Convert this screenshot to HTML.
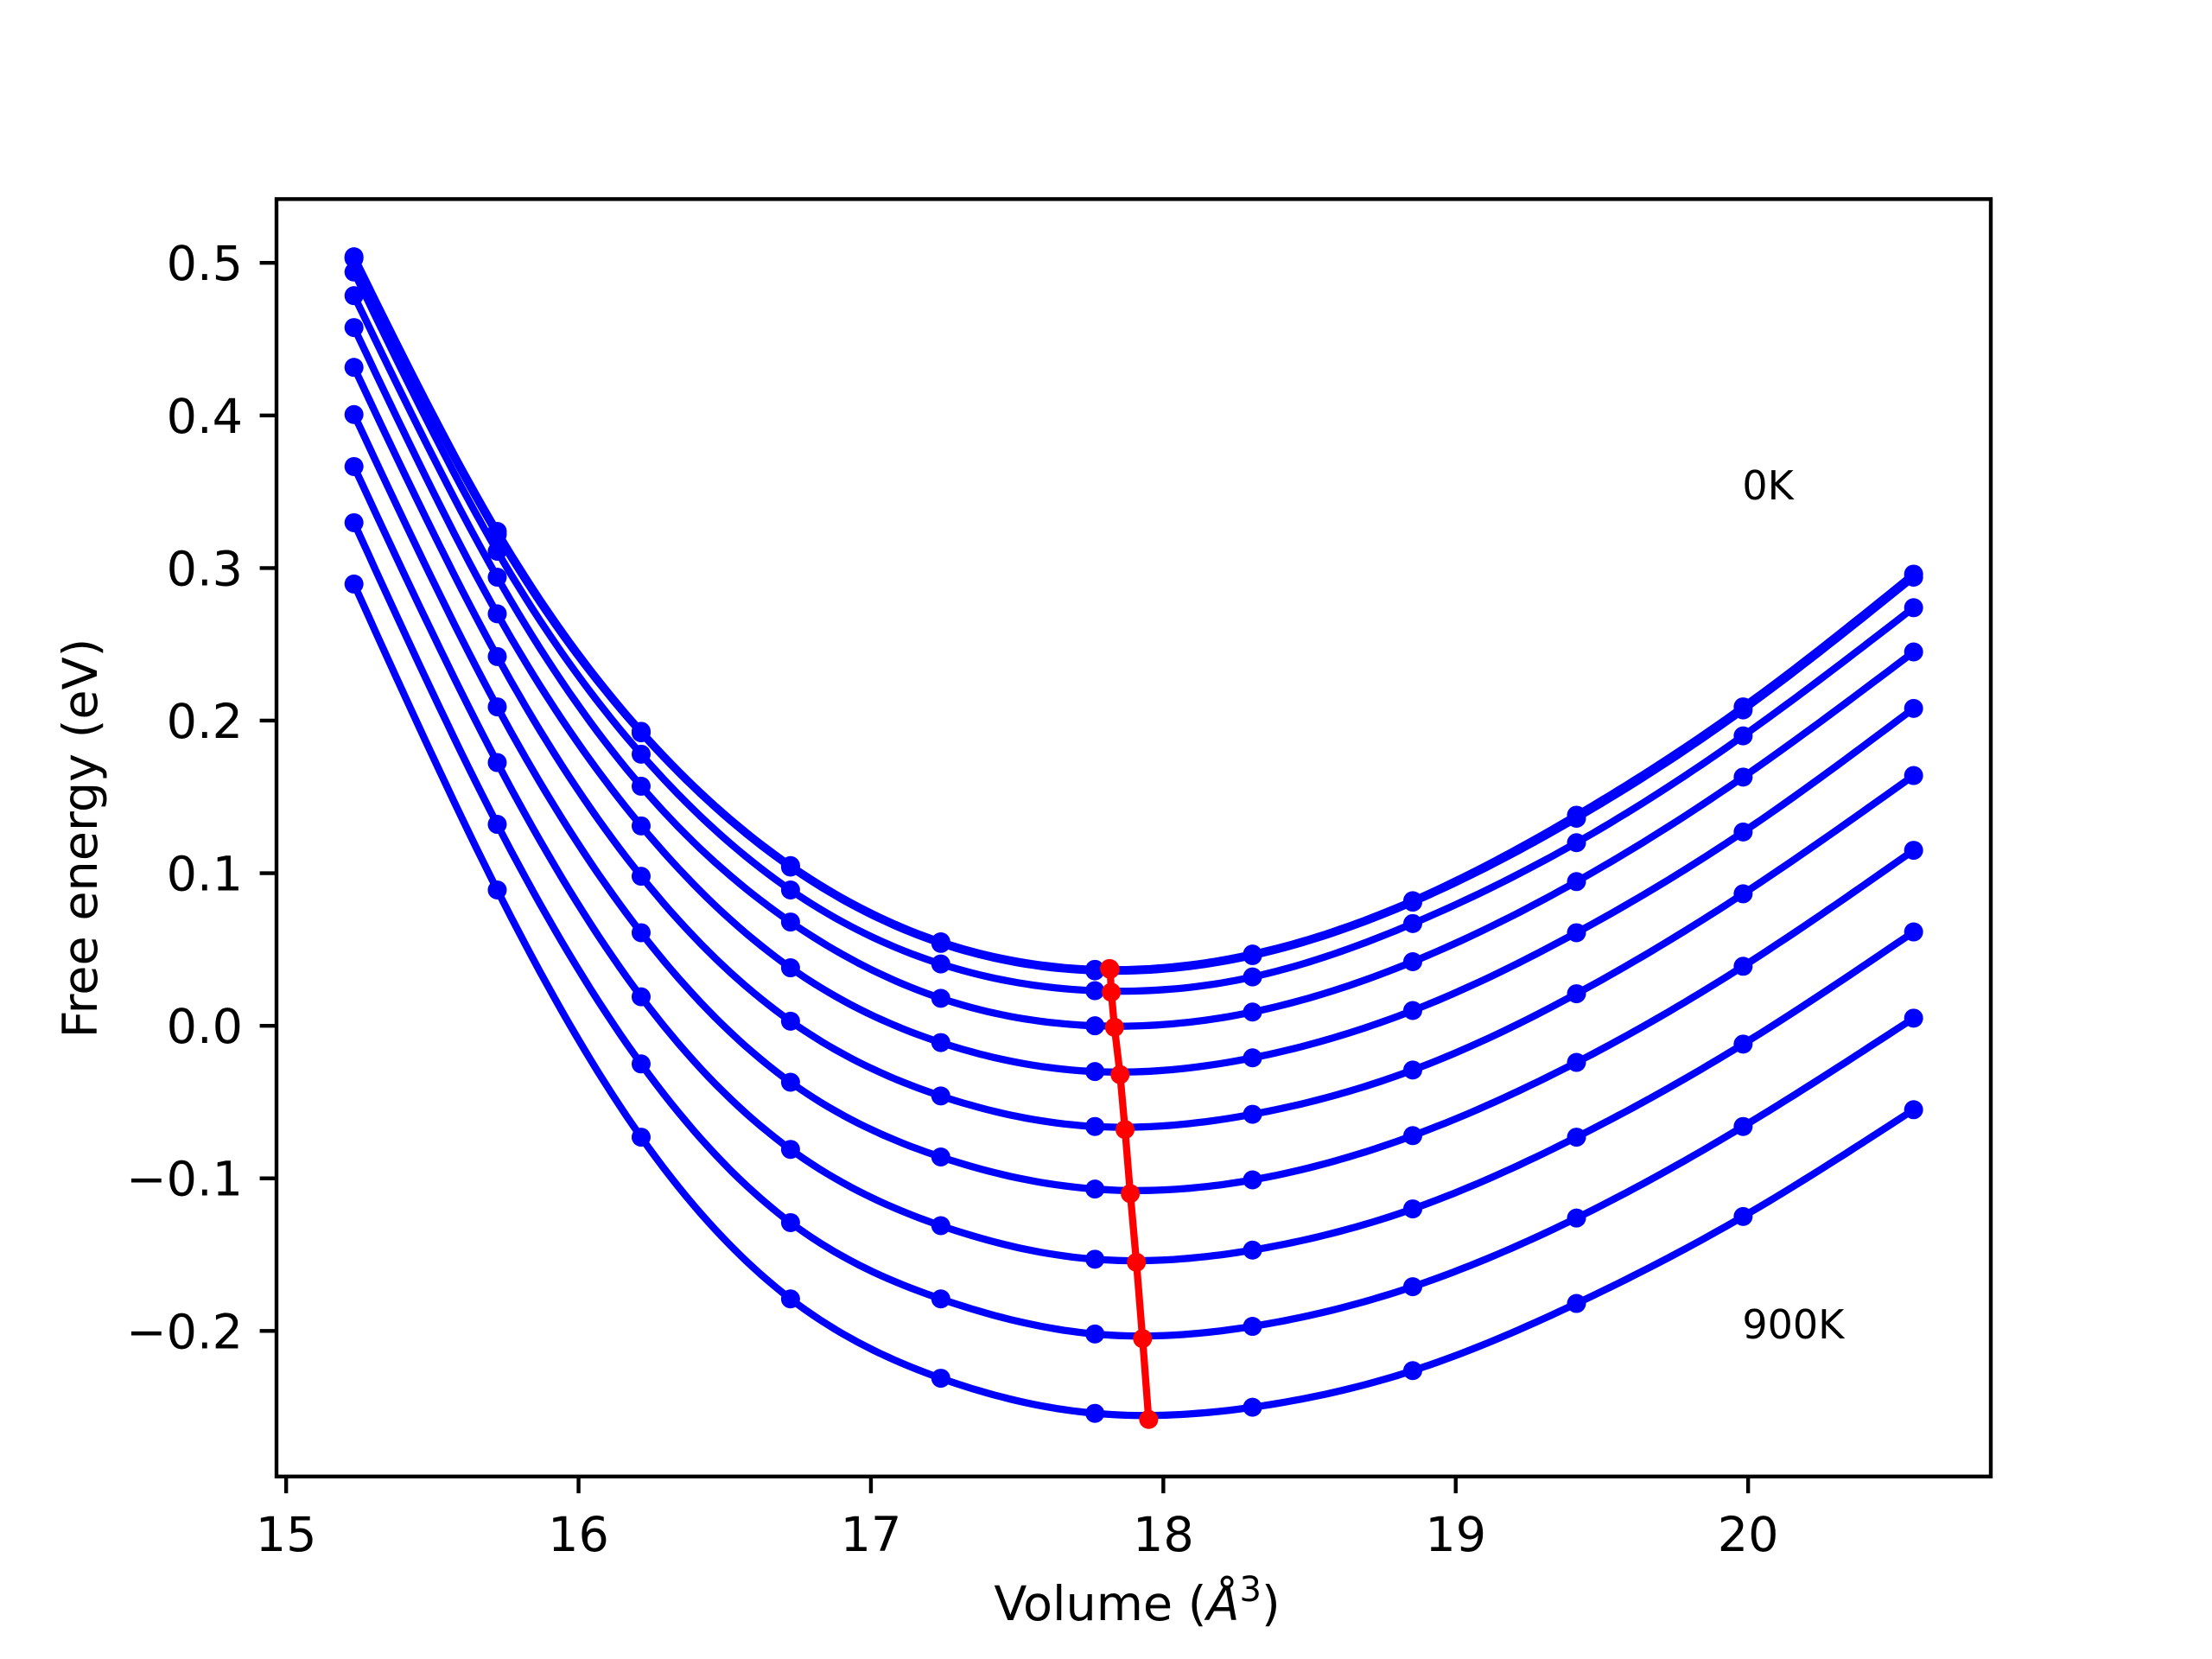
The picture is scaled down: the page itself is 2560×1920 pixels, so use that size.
<!DOCTYPE html>
<html><head><meta charset="utf-8"><style>
html,body{margin:0;padding:0;background:#fff;}
svg{display:block;font-family:"DejaVu Sans","Liberation Sans",sans-serif;}
</style></head><body>
<svg id="chart" xmlns="http://www.w3.org/2000/svg" width="2560" height="1920" viewBox="0 0 2560 1920">
<rect width="2560" height="1920" fill="#fff"/>
<g id="plot"></g>
</svg>
<script>
const volumes = [15.232, 15.722, 16.214, 16.725, 17.239, 17.766, 18.305, 18.853, 19.413, 19.983, 20.566];
const temps = ["0K","100K","200K","300K","400K","500K","600K","700K","800K","900K"];
const e0 = [0.504, 0.324, 0.193, 0.105, 0.055, 0.037, 0.047, 0.082, 0.138, 0.209, 0.296];
const e100 = [0.503, 0.322, 0.192, 0.104, 0.054, 0.036, 0.046, 0.081, 0.136, 0.207, 0.294];
const e200 = [0.494, 0.311, 0.178, 0.089, 0.0405, 0.023, 0.032, 0.067, 0.120, 0.190, 0.274];
const e300 = [0.4785, 0.294, 0.157, 0.068, 0.018, 0.0, 0.009, 0.042, 0.0945, 0.163, 0.245];
const e400 = [0.4576, 0.270, 0.131, 0.038, -0.011, -0.030, -0.021, 0.010, 0.061, 0.127, 0.208];
const e500 = [0.4315, 0.242, 0.098, 0.003, -0.046, -0.066, -0.058, -0.029, 0.021, 0.0865, 0.164];
const e600 = [0.4006, 0.209, 0.061, -0.037, -0.086, -0.107, -0.101, -0.072, -0.024, 0.039, 0.115];
const e700 = [0.3665, 0.1725, 0.019, -0.081, -0.131, -0.153, -0.147, -0.120, -0.073, -0.012, 0.0615];
const e800 = [0.3297, 0.132, -0.025, -0.129, -0.179, -0.202, -0.197, -0.171, -0.126, -0.066, 0.005];
const e900 = [0.2895, 0.089, -0.073, -0.179, -0.231, -0.254, -0.250, -0.226, -0.182, -0.125, -0.055];
const minVolumes = [17.816, 17.818, 17.822, 17.833, 17.852, 17.869, 17.887, 17.908, 17.929, 17.950];
const minEnergies = [0.0375, 0.037, 0.022, -0.001, -0.032, -0.068, -0.110, -0.155, -0.205, -0.258];
const xTicks = [15, 16, 17, 18, 19, 20];
const yTicks = [-0.2, -0.1, 0.0, 0.1, 0.2, 0.3, 0.4, 0.5];
const annotations = [["0K", 19.98, 0.345], ["900K", 19.98, -0.205]];
const series = [e0, e100, e200, e300, e400, e500, e600, e700, e800, e900];

const NS = "http://www.w3.org/2000/svg";
const L = 320, R = 2304, T = 230.4, B = 1708.8;
const xmin = 14.967, xmax = 20.830, ymin = -0.2954, ymax = 0.5418;
const sx = v => L + (v - xmin) / (xmax - xmin) * (R - L);
const sy = v => B - (v - ymin) / (ymax - ymin) * (B - T);
const g = document.getElementById('plot');
function mk(tag, attrs, parent) {
  const el = document.createElementNS(NS, tag);
  for (const k in attrs) el.setAttribute(k, attrs[k]);
  (parent || g).appendChild(el);
  return el;
}
function spline(xs, ys) {
  const n = xs.length, h = [], a = [], c = new Array(n).fill(0), l = [1], mu = [0], z = [0];
  for (let i = 0; i < n - 1; i++) h.push(xs[i+1] - xs[i]);
  for (let i = 1; i < n - 1; i++) a[i] = 3/h[i]*(ys[i+1]-ys[i]) - 3/h[i-1]*(ys[i]-ys[i-1]);
  for (let i = 1; i < n - 1; i++) {
    l[i] = 2*(xs[i+1]-xs[i-1]) - h[i-1]*mu[i-1];
    mu[i] = h[i]/l[i]; z[i] = (a[i]-h[i-1]*z[i-1])/l[i];
  }
  z[n-1] = 0;
  for (let j = n - 2; j >= 0; j--) c[j] = z[j] - mu[j]*c[j+1];
  let d = "";
  for (let i = 0; i < n - 1; i++) {
    const b = (ys[i+1]-ys[i])/h[i] - h[i]*(c[i+1]+2*c[i])/3;
    const dd = (c[i+1]-c[i])/(3*h[i]);
    for (let k = 0; k <= 20; k++) {
      const t = h[i]*k/20, x = xs[i]+t;
      const y = ys[i] + b*t + c[i]*t*t + dd*t*t*t;
      d += (d ? "L" : "M") + sx(x).toFixed(1) + "," + sy(y).toFixed(1);
    }
  }
  return d;
}
const clipDef = mk('defs', {});
const cp = mk('clipPath', {id: 'clip'}, clipDef);
mk('rect', {x: L, y: T, width: R - L, height: B - T}, cp);
const data = mk('g', {'clip-path': 'url(#clip)'});


series.forEach((s, i) => {
  const p = mk('path', {d: spline(volumes, s), fill: 'none', stroke: '#0000ff', 'stroke-width': 8.3, 'stroke-linejoin': 'round', 'stroke-linecap': 'square'}, data);
  
  
  s.forEach((v, j) => {
    const c = mk('circle', {cx: sx(volumes[j]), cy: sy(v), r: 11, fill: '#0000ff'}, data);
    
    
  });
});
let md = "";
minVolumes.forEach((v, i) => { md += (i ? "L" : "M") + sx(v).toFixed(1) + "," + sy(minEnergies[i]).toFixed(1); });
const ml = mk('path', {d: md, fill: 'none', stroke: '#ff0000', 'stroke-width': 8.3, 'stroke-linejoin': 'round'}, data);


minVolumes.forEach((v, i) => {
  const c = mk('circle', {cx: sx(v), cy: sy(minEnergies[i]), r: 11, fill: '#ff0000'}, data);
  
  
});
annotations.forEach(a => {
  const t = mk('text', {x: sx(a[1]), y: sy(a[2]), 'font-size': 46, fill: '#000'});
  t.textContent = a[0];
  
  
});
const fr = mk('rect', {x: L, y: T, width: R - L, height: B - T, fill: 'none', stroke: '#000', 'stroke-width': 4.4});


xTicks.forEach(v => {
  const x = sx(v);
  const tk = mk('line', {x1: x, x2: x, y1: B, y2: B + 19.4, stroke: '#000', 'stroke-width': 4.4});
  
  
  const t = mk('text', {x: x, y: B + 86, 'font-size': 55.6, 'text-anchor': 'middle', fill: '#000'});
  t.textContent = String(v);
  
  
});
yTicks.forEach(v => {
  const y = sy(v);
  const tk = mk('line', {x1: L - 19.4, x2: L, y1: y, y2: y, stroke: '#000', 'stroke-width': 4.4});
  
  
  const t = mk('text', {x: L - 39, y: y + 20, 'font-size': 55.6, 'text-anchor': 'end', fill: '#000'});
  t.textContent = v.toFixed(1).replace('-', '\u2212');
  
  
});
</script>
<svg style="position:absolute;left:0;top:0" width="2560" height="1920">
<text x="1316" y="1875" font-size="55.6" text-anchor="middle" font-family="DejaVu Sans, Liberation Sans, sans-serif">Volume (<tspan font-style="italic">Å</tspan><tspan dy="-22" font-size="40">3</tspan><tspan dy="22">)</tspan></text>
<text transform="translate(112,970) rotate(-90)" font-size="55.6" text-anchor="middle" font-family="DejaVu Sans, Liberation Sans, sans-serif">Free energy (eV)</text>
</svg>
</body></html>
